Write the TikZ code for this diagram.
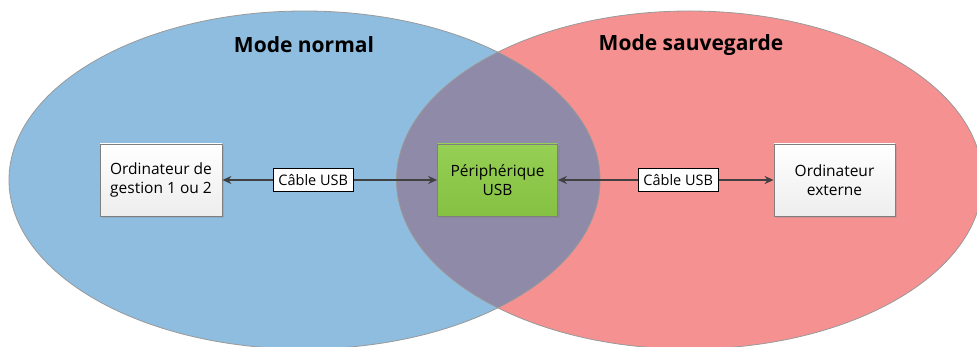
\documentclass[tikz,border=0pt]{standalone}
\usepackage{fontspec}
\setmainfont{Open Sans}
\usetikzlibrary{arrows.meta,shadows}
\definecolor{blueset}{HTML}{8FBDDF}
\definecolor{redset}{HTML}{F69192}
\definecolor{overlapset}{HTML}{8E8AA8}
\definecolor{edgegray}{HTML}{7F7F7F}
\definecolor{arrowgray}{HTML}{404040}
\definecolor{greenbox}{HTML}{8CCB45}
\tikzset{
  setedge/.style={draw=edgegray!80, line width=0.8pt},
  devbox/.style={draw=edgegray, line width=0.8pt, minimum width=121pt, minimum height=72pt,
    align=center, inner sep=2pt, font=\fontsize{15.5}{18.5}\selectfont,
    top color=white, bottom color=black!7,
    drop shadow={opacity=0.25, shadow xshift=2pt, shadow yshift=-2pt}},
  greenstyle/.style={top color=greenbox!92!white, bottom color=greenbox!95!black},
  cablelabel/.style={draw=black, fill=white, line width=0.7pt, minimum width=80pt, minimum height=23pt,
    inner sep=1pt, font=\fontsize{14.5}{16}\selectfont},
  titletext/.style={font=\fontsize{21}{25}\selectfont\bfseries},
  link/.style={draw=arrowgray, line width=1.5pt, {Stealth[length=9pt,width=8pt]}-{Stealth[length=9pt,width=8pt]}}
}
\begin{document}
\begin{tikzpicture}[x=1pt,y=-1pt]
\useasboundingbox (0,0) rectangle (977,347);
\clip (0,0) rectangle (977,347);
% sets
\fill[blueset] (304.5,180) ellipse [x radius=295.5, y radius=169];
\fill[redset] (689.5,180) ellipse [x radius=293, y radius=169];
\begin{scope}
  \clip (304.5,180) ellipse [x radius=295.5, y radius=169];
  \fill[overlapset] (689.5,180) ellipse [x radius=293, y radius=169];
\end{scope}
\draw[setedge] (304.5,180) ellipse [x radius=295.5, y radius=169];
\draw[setedge] (689.5,180) ellipse [x radius=293, y radius=169];
% titles
\node[titletext] (tnormal) at (304,45) {Mode normal};
\node[titletext] (tsauve) at (691,45) {Mode sauvegarde};
% boxes
\node[devbox, minimum width=122pt] (pc) at (161,180) {Ordinateur de\\gestion 1 ou 2};
\node[devbox, greenstyle, minimum width=120pt] (dev) at (497.5,180) {Périphérique\\USB};
\node[devbox] (ext) at (834.5,180) {Ordinateur\\externe};
% connectors
\draw[link] (pc) -- (dev) node[cablelabel, pos=0.423] (c1) {Câble USB};
\draw[link] (dev) -- (ext) node[cablelabel, pos=0.558] (c2) {Câble USB};
\end{tikzpicture}
\end{document}
